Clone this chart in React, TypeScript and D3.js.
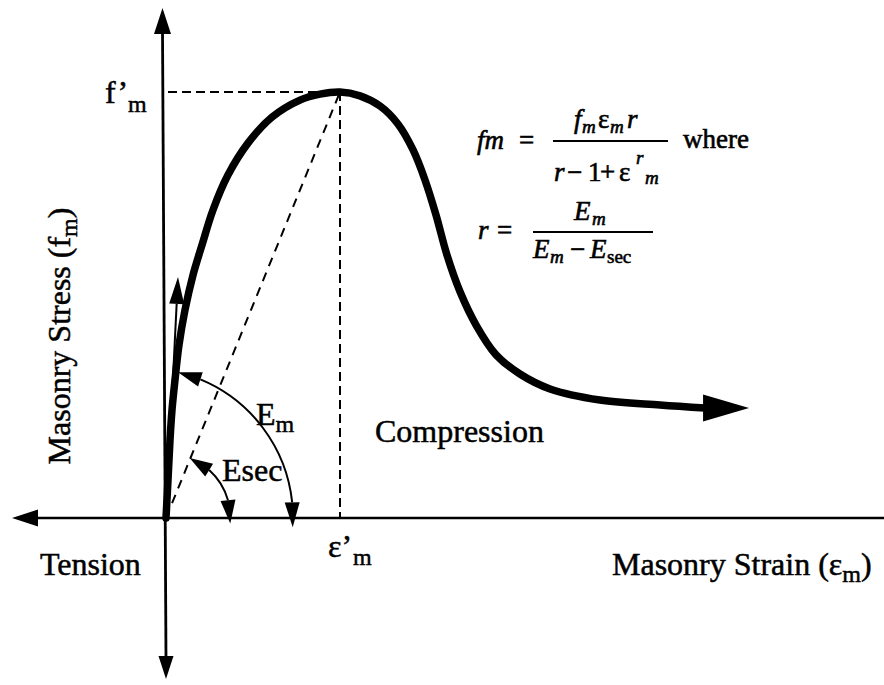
import React from "react";
import * as d3 from "d3";

const WIDTH = 884;
const HEIGHT = 685;

// Masonry stress–strain curve; strain in units of ε'm, stress in units of f'm
const strainValues = [
  0, 0.0115, 0.023, 0.0345, 0.0517, 0.0747, 0.109, 0.155, 0.207, 0.27, 0.356,
  0.471, 0.609, 0.77, 0.885, 1, 1.115, 1.23, 1.333, 1.42, 1.489, 1.552, 1.615,
  1.69, 1.782, 1.897, 2.034, 2.207, 2.494, 2.839, 3.098,
];
const stressValues = [
  0, 0.0892, 0.183, 0.2535, 0.324, 0.406, 0.488, 0.57, 0.641, 0.723, 0.805,
  0.88, 0.941, 0.981, 0.995, 1, 0.991, 0.967, 0.925, 0.864, 0.793, 0.711, 0.617,
  0.531, 0.453, 0.383, 0.338, 0.303, 0.277, 0.265, 0.258,
];

// peak (ε'm, f'm) and the initial-tangent (Em) direction
const peakPoint = [1, 1];
const tangentPoint = [0.069, 0.566];

const FONT = "Liberation Serif";

type P = [number, number];

function arrowHead(tip: P, base: P, hw: number): string {
  const dx = tip[0] - base[0];
  const dy = tip[1] - base[1];
  const L = Math.hypot(dx, dy);
  const nx = -dy / L;
  const ny = dx / L;
  return `M${tip[0]},${tip[1]}L${base[0] + nx * hw},${base[1] + ny * hw}L${base[0] - nx * hw},${base[1] - ny * hw}Z`;
}

function onCircle(c: P, r: number, deg: number): P {
  const a = (deg * Math.PI) / 180;
  return [c[0] + r * Math.cos(a), c[1] - r * Math.sin(a)];
}

function arcPath(c: P, r: number, from: number, to: number): string {
  const p = d3.path();
  // SVG y points down, so the angles are negated
  p.arc(c[0], c[1], r, (-from * Math.PI) / 180, (-to * Math.PI) / 180, false);
  return p.toString();
}

const T = (props: any) => (
  <text style={{ fontFamily: FONT }} fill="#000" stroke="#000" {...props} />
);

export default function App() {
  const x = d3.scaleLinear().domain([0, 1]).range([166, 340]);
  const y = d3.scaleLinear().domain([0, 1]).range([518, 92]);

  const pts: P[] = strainValues.map((s, i) => [x(s), y(stressValues[i])]);
  const line = d3
    .line<P>()
    .x((d) => d[0])
    .y((d) => d[1])
    .curve(d3.curveCatmullRom.alpha(0.5));

  const last = pts[pts.length - 1];
  const endTip: P = [last[0] + 44, last[1]];

  const origin: P = [x(0), y(0)];
  const peak: P = [x(peakPoint[0]), y(peakPoint[1])];
  const tanTip: P = [x(tangentPoint[0]), y(tangentPoint[1])];
  const tanDir = [tanTip[0] - origin[0], tanTip[1] - origin[1]];
  const tanLen = Math.hypot(tanDir[0], tanDir[1]);
  const tanBase: P = [
    tanTip[0] - (tanDir[0] / tanLen) * 27,
    tanTip[1] - (tanDir[1] / tanLen) * 27,
  ];

  // Em arc and Esec arc
  const emC: P = [origin[0] - 23, origin[1]];
  const emR = 150;
  const secC: P = origin;
  const secR = 64.5;

  const axisY = y(0);

  return (
    <svg
      width={WIDTH}
      height={HEIGHT}
      viewBox={`0 0 ${WIDTH} ${HEIGHT}`}
      style={{ position: "absolute", left: 0, top: 0, display: "block", background: "#fff", fontFamily: FONT }}
    >
      <rect width={WIDTH} height={HEIGHT} fill="#fff" />

      {/* axes */}
      <line x1={36} y1={axisY} x2={WIDTH} y2={axisY} stroke="#000" strokeWidth={2.5} />
      <path d={arrowHead([12, axisY], [38, axisY], 8.5)} fill="#000" />
      <line x1={162.5} y1={30} x2={166} y2={660} stroke="#000" strokeWidth={2.8} />
      <path d={arrowHead([162.5, 8], [162.5, 34], 8.5)} fill="#000" />
      <path d={arrowHead([166, 679], [166, 656], 7.5)} fill="#000" />

      {/* peak guide lines */}
      <line x1={168} y1={peak[1]} x2={peak[0]} y2={peak[1]} stroke="#000" strokeWidth={2} strokeDasharray="9 5" />
      <line x1={peak[0]} y1={peak[1]} x2={peak[0]} y2={axisY} stroke="#000" strokeWidth={2} strokeDasharray="9 5" />

      {/* secant modulus line */}
      <line x1={origin[0]} y1={origin[1]} x2={peak[0]} y2={peak[1]} stroke="#000" strokeWidth={2} strokeDasharray="9 7" />

      {/* initial tangent */}
      <line x1={origin[0]} y1={origin[1]} x2={tanBase[0]} y2={tanBase[1]} stroke="#000" strokeWidth={2} />
      <path d={arrowHead(tanTip, tanBase, 7.5)} fill="#000" />

      {/* Em arc */}
      <path d={arcPath(emC, emR, 67.5, 6)} fill="none" stroke="#000" strokeWidth={2} />
      <path d={arrowHead(onCircle(emC, emR, 76.5), onCircle(emC, emR, 67.5), 7.5)} fill="#000" />
      <path d={arrowHead(onCircle(emC, emR, -3.5), onCircle(emC, emR, 6), 7.5)} fill="#000" />

      {/* Esec arc */}
      <path d={arcPath(secC, secR, 48, 16)} fill="none" stroke="#000" strokeWidth={2} />
      <path d={arrowHead(onCircle(secC, secR, 68.5), onCircle(secC, secR, 48), 7.5)} fill="#000" />
      <path d={arrowHead(onCircle(secC, secR, -5), onCircle(secC, secR, 16), 7.5)} fill="#000" />

      {/* stress-strain curve */}
      <path d={line(pts) ?? ""} fill="none" stroke="#000" strokeWidth={7.5} strokeLinecap="round" strokeLinejoin="round" />
      <path d={arrowHead(endTip, [last[0] - 2, last[1]], 13.5)} fill="#000" />

      {/* labels */}
      <g fontSize={32} strokeWidth={0.5}>
        <T x={105} y={103}>
          f’<tspan x={128} y={112} fontSize={24}>m</tspan>
        </T>
        <T x={328} y={557}>
          ε’<tspan x={353} y={565} fontSize={24}>m</tspan>
        </T>
        <T x={256} y={425}>
          E<tspan dy={7} fontSize={24}>m</tspan>
        </T>
        <T x={222} y={481}>Esec</T>
        <T x={375} y={442}>Compression</T>
        <T x={40} y={575}>Tension</T>
        <T x={612} y={575}>
          Masonry Strain (ε<tspan dy={7} fontSize={24}>m</tspan>
          <tspan dy={-7}>)</tspan>
        </T>
        <T transform="translate(70,336) rotate(-90)" textAnchor="middle">
          Masonry Stress (f<tspan dy={7} fontSize={24}>m</tspan>
          <tspan dy={-7}>)</tspan>
        </T>
      </g>

      {/* formulas */}
      <g fontSize={27} strokeWidth={0.6}>
        <T x={477} y={149} fontStyle="italic">fm</T>
        <T x={519} y={149}>=</T>
        <T x={574} y={128} fontStyle="italic">f</T>
        <T x={582} y={133} fontSize={19} fontStyle="italic">m</T>
        <T x={598} y={128}>ε</T>
        <T x={610} y={133} fontSize={19} fontStyle="italic">m</T>
        <T x={627} y={128} fontStyle="italic">r</T>
        <line x1={553} y1={141} x2={668} y2={141} stroke="#000" strokeWidth={1.8} />
        <T x={554} y={181} fontStyle="italic">r</T>
        <T x={567} y={181}>−</T>
        <T x={588} y={181}>1</T>
        <T x={600} y={181}>+</T>
        <T x={619} y={181}>ε</T>
        <T x={636} y={164} fontSize={19} fontStyle="italic">r</T>
        <T x={645} y={184} fontSize={19} fontStyle="italic">m</T>
        <T x={683} y={148}>where</T>

        <T x={478} y={239} fontStyle="italic">r</T>
        <T x={497} y={239}>=</T>
        <T x={574} y={220} fontStyle="italic">E</T>
        <T x={592} y={225} fontSize={19} fontStyle="italic">m</T>
        <line x1={533} y1={232} x2={653} y2={232} stroke="#000" strokeWidth={1.8} />
        <T x={533} y={258} fontStyle="italic">E</T>
        <T x={550} y={263} fontSize={19} fontStyle="italic">m</T>
        <T x={570} y={258}>−</T>
        <T x={590} y={258} fontStyle="italic">E</T>
        <T x={607} y={263} fontSize={19}>sec</T>
      </g>
    </svg>
  );
}
